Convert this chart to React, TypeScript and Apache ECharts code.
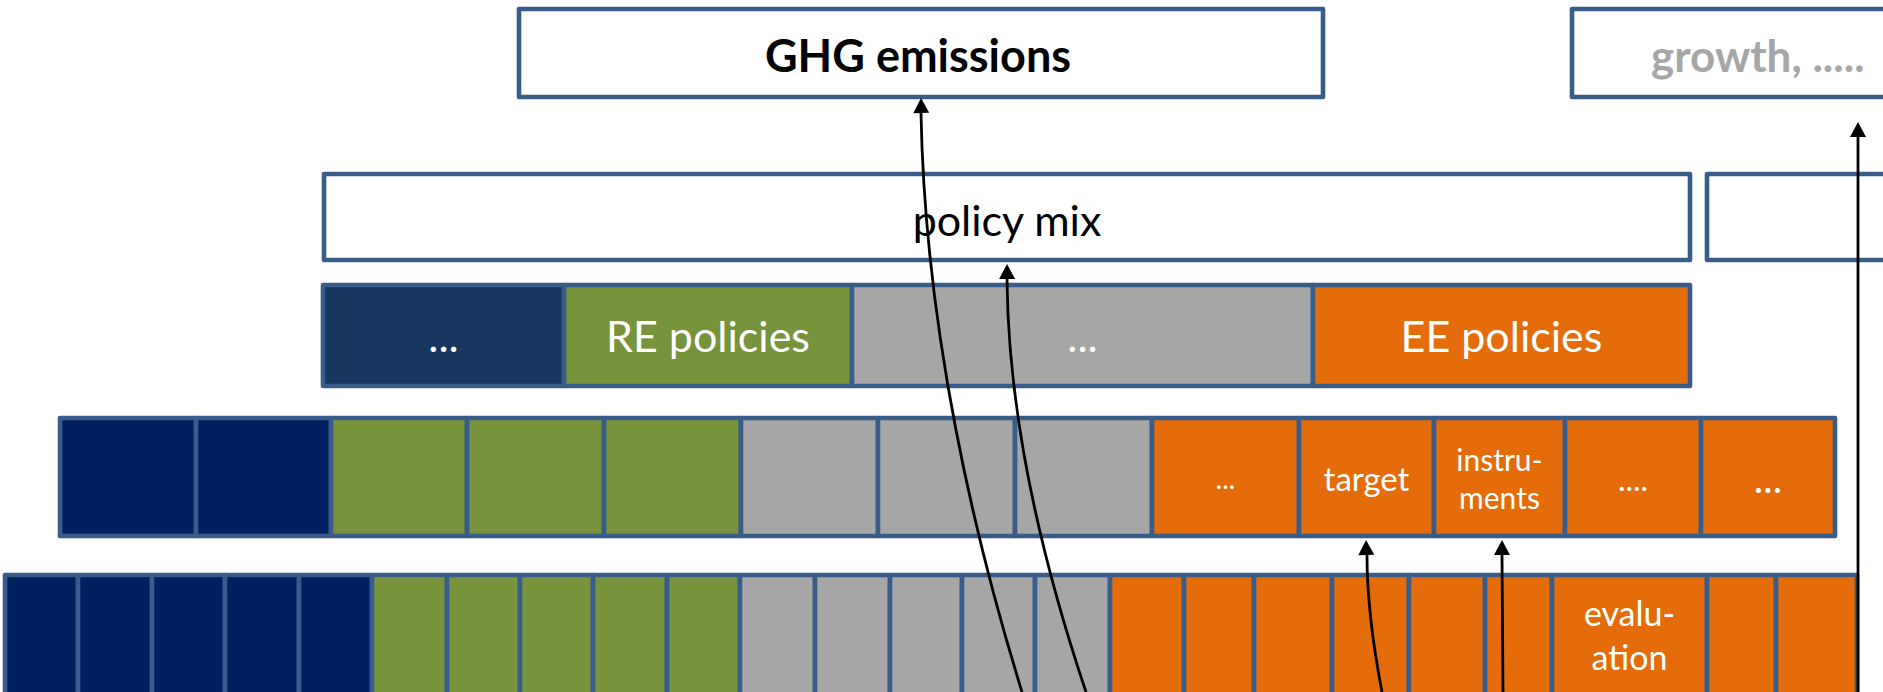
import React, { useEffect, useRef } from "react";
import * as echarts from "echarts";

// ---- content (labels / groups) ----
const topLabels = ["GHG emissions", "growth, ....."];
const mixLabels = ["policy mix", ""];
const policyLabels = ["...", "RE policies", "...", "EE policies"];
const policyGroups = ["other", "RE", "misc", "EE"];
const designLabels = ["", "", "", "", "", "", "", "", "...", "target", "instru-\nments", "....", "..."];
const designGroups = ["navy", "navy", "RE", "RE", "RE", "misc", "misc", "misc", "EE", "EE", "EE", "EE", "EE"];
const detailLabels = [
  "", "", "", "", "", "", "", "", "", "", "", "", "", "", "", "", "", "", "", "", "", "evalu-\nation", "", ""
];
const detailGroups = [
  "navy", "navy", "navy", "navy", "navy",
  "RE", "RE", "RE", "RE", "RE",
  "misc", "misc", "misc", "misc", "misc",
  "EE", "EE", "EE", "EE", "EE", "EE", "EE", "EE", "EE"
];

// ---- layout (pixel geometry of the diagram) ----
const W = 1883;
const H = 692;
const BORDER = "#385D8A";
const LW = 4.6;
const FONT = "Lato, 'Open Sans', sans-serif";
const colors: Record<string, string> = {
  other: "#17375E",
  navy: "#002060",
  RE: "#77933C",
  misc: "#A6A6A6",
  EE: "#E46C0A",
};
const topEdges = [[519, 1323], [1572, 2100]];
const topY = [9, 88];
const mixEdges = [[324, 1690], [1707, 2100]];
const mixY = [174, 86];
const policyEdges = [323, 564, 852, 1313, 1690];
const policyY = [285, 101];
const designEdges = [60, 196, 331, 467, 604, 741, 878, 1015, 1152, 1299, 1434, 1565, 1701, 1835];
const designY = [418, 118];
const detailEdges = [5, 78, 152, 225, 299, 372, 447, 520, 593, 667, 740, 815, 890, 962, 1035, 1110, 1184, 1254, 1332, 1409, 1485, 1552, 1707, 1776, 1857];
const detailY = [575, 200];

type Arrow = { p: number[]; tip: number[] };
// bezier arrows: [x0,y0, cx1,cy1, cx2,cy2, x3,y3] ; tip is the arrow point
const arrows: Arrow[] = [
  { p: [1022, 692, 975, 540, 925, 330, 921, 113], tip: [921, 98] },
  { p: [1086, 692, 1035, 540, 1008, 400, 1007, 279], tip: [1007, 264] },
  { p: [1382, 692, 1372, 640, 1367, 590, 1367, 555], tip: [1366, 540] },
  { p: [1503, 692, 1503, 640, 1502, 590, 1502, 555], tip: [1502, 540] },
  { p: [1858, 692, 1858, 500, 1858, 300, 1858, 137], tip: [1858, 122] },
];

function rect(x: number, y: number, w: number, h: number, fill: string) {
  return {
    type: "rect",
    shape: { x, y, width: w, height: h },
    style: { fill, stroke: BORDER, lineWidth: LW, lineJoin: "round" },
  };
}

function label(x: number, y: number, text: string, size: number, fill: string, weight = "normal", lh = 0, align = "center") {
  return {
    type: "text",
    x,
    y,
    style: {
      text,
      fill,
      fontFamily: FONT,
      fontSize: size,
      fontWeight: weight,
      lineHeight: lh || Math.round(size * 1.2),
      align,
      verticalAlign: "middle",
    },
    z: 5,
  };
}

function buildGraphics() {
  const els: any[] = [];
  // top boxes
  topEdges.forEach((e) => els.push(rect(e[0], topY[0], e[1] - e[0], topY[1], "#ffffff")));
  els.push(label(918, 55, topLabels[0], 45, "#000000", "bold"));
  els.push(label(1651, 55, topLabels[1], 44, "#A6A6A6", "bold", 0, "left"));
  // policy mix
  mixEdges.forEach((e) => els.push(rect(e[0], mixY[0], e[1] - e[0], mixY[1], "#ffffff")));
  els.push(label((mixEdges[0][0] + mixEdges[0][1]) / 2, 219, mixLabels[0], 43, "#000000"));
  // policy row
  policyLabels.forEach((t, i) => {
    const x0 = policyEdges[i];
    const x1 = policyEdges[i + 1];
    els.push(rect(x0, policyY[0], x1 - x0, policyY[1], colors[policyGroups[i]]));
    if (t) els.push(label((x0 + x1) / 2, 335, t, 43, "#ffffff"));
  });
  // design row
  const dSizes: Record<string, number> = { "...": 28, target: 33, "instru-\nments": 30, "....": 32 };
  designLabels.forEach((t, i) => {
    const x0 = designEdges[i];
    const x1 = designEdges[i + 1];
    els.push(rect(x0, designY[0], x1 - x0, designY[1], colors[designGroups[i]]));
  });
  designLabels.forEach((t, i) => {
    if (!t) return;
    const x0 = designEdges[i];
    const x1 = designEdges[i + 1];
    let size = dSizes[t] || 30;
    if (i === designLabels.length - 1) size = 40;
    const multi = t.includes("\n");
    els.push(label((x0 + x1) / 2, multi ? 478 : 478, t, size, "#ffffff", "normal", multi ? 38 : 0));
  });
  // detail row
  detailLabels.forEach((t, i) => {
    const x0 = detailEdges[i];
    const x1 = detailEdges[i + 1];
    els.push(rect(x0, detailY[0], x1 - x0, detailY[1], colors[detailGroups[i]]));
  });
  detailLabels.forEach((t, i) => {
    if (!t) return;
    const x0 = detailEdges[i];
    const x1 = detailEdges[i + 1];
    els.push(label((x0 + x1) / 2, 634, t, 34, "#ffffff", "normal", 44));
  });
  // arrows
  arrows.forEach((a) => {
    const [x0, y0, c1x, c1y, c2x, c2y, x3, y3] = a.p;
    els.push({
      type: "bezierCurve",
      shape: { x1: x0, y1: y0, cpx1: c1x, cpy1: c1y, cpx2: c2x, cpy2: c2y, x2: x3, y2: y3 },
      style: { stroke: "#000000", lineWidth: 2.8, fill: "none" },
      z: 10,
    });
    const [tx, ty] = a.tip;
    const dx = tx - c2x;
    const dy = ty - c2y;
    const len = Math.sqrt(dx * dx + dy * dy) || 1;
    const ux = dx / len;
    const uy = dy / len;
    const L = 15;
    const hw = 8;
    const bx = tx - ux * L;
    const by = ty - uy * L;
    els.push({
      type: "polygon",
      shape: {
        points: [
          [tx, ty],
          [bx - uy * hw, by + ux * hw],
          [bx + uy * hw, by - ux * hw],
        ],
      },
      style: { fill: "#000000", stroke: "none" },
      z: 11,
    });
  });
  return els;
}

export default function App() {
  const ref = useRef<HTMLDivElement>(null);
  useEffect(() => {
    if (!ref.current) return;
    const chart = echarts.init(ref.current, undefined, { renderer: "svg", width: W, height: H });
    chart.setOption({
      animation: false,
      backgroundColor: "#ffffff",
      graphic: { elements: buildGraphics() },
    });
    return () => chart.dispose();
  }, []);
  return (
    <div
      ref={ref}
      style={{ position: "fixed", left: 0, top: 0, width: W, height: H, overflow: "hidden", background: "#fff" }}
    />
  );
}
